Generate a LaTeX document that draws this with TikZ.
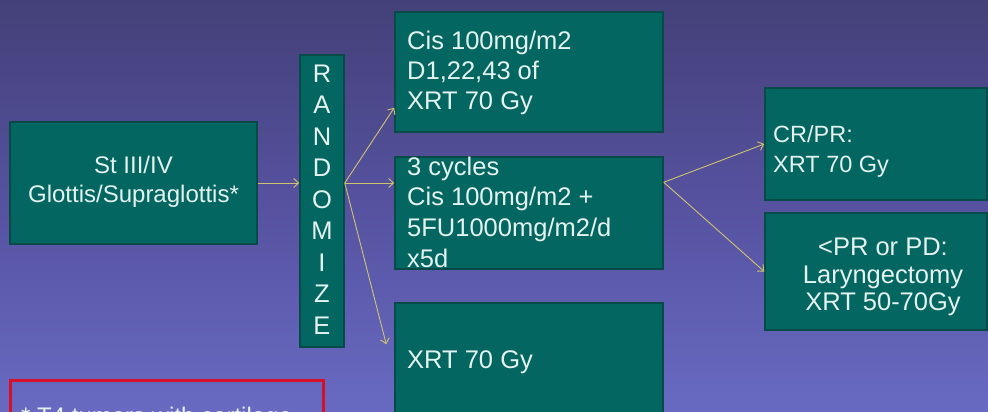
\documentclass[tikz,border=0pt]{standalone}
\usepackage{fontspec}
\setmainfont{Liberation Sans}
\usetikzlibrary{arrows.meta,calc}
\definecolor{bgtop}{RGB}{68,64,120}
\definecolor{bgmid}{RGB}{86,82,160}
\definecolor{bgbot}{RGB}{104,106,194}
\definecolor{boxfill}{RGB}{3,102,96}
\definecolor{boxline}{RGB}{8,74,72}
\definecolor{txt}{RGB}{228,242,240}
\definecolor{arr}{RGB}{206,196,112}
\definecolor{redb}{RGB}{214,16,40}
\begin{document}
\begin{tikzpicture}[x=1pt,y=-1pt,
  box/.style={draw=boxline, line width=1.5pt, fill=boxfill, inner sep=0pt},
  lbl/.style={text=txt, font=\fontsize{24}{29}\selectfont, inner sep=0pt, anchor=base west},
  big/.style={font=\fontsize{25.5}{30}\selectfont},
  small/.style={font=\fontsize{23.5}{28}\selectfont},
  clbl/.style={lbl, anchor=base},
  conn/.style={draw=arr, line width=0.9pt, -{Straight Barb[length=5pt,width=9pt]}}]
\useasboundingbox (0,0) rectangle (988,412);
\clip (0,0) rectangle (988,412);
\shade[top color=bgtop, bottom color=bgbot, middle color=bgmid] (0,0) rectangle (988,412);

% boxes
\node[box, minimum width=247pt, minimum height=122pt] (stage) at (133.5,183) {};
\node[box, minimum width=44pt, minimum height=292pt] (rand) at (322,201) {};
\node[box, minimum width=268pt, minimum height=120pt] (top) at (529,72) {};
\node[box, minimum width=268pt, minimum height=112pt] (mid) at (529,213) {};
\node[box, minimum width=268pt, minimum height=118pt] (bot) at (529,362) {};
\node[box, minimum width=222pt, minimum height=112pt] (trB) at (876,144) {};
\node[box, minimum width=222pt, minimum height=117pt] (brB) at (876,271.5) {};
\draw[redb, line width=3pt] (10,380) rectangle (323,450);

% texts
\node[clbl] (s1) at (133.5,173) {St III/IV};
\node[clbl] (s2) at (133.5,202) {Glottis/Supraglottis*};
\foreach \l [count=\i from 0] in {R,A,N,D,O,M,I,Z,E}
  \node[clbl, big] (r\i) at (322,82+31.5*\i) {\l};
\node[lbl, big] (a1) at (407,50) {Cis 100mg/m2};
\node[lbl, big] (a2) at (407,80) {D1,22,43 of};
\node[lbl, big] (a3) at (407,110) {XRT 70 Gy};
\node[lbl, big] (b1) at (407,175) {3 cycles};
\node[lbl, big] (b2) at (407,205) {Cis 100mg/m2 +};
\node[lbl, big] (b3) at (407,236) {5FU1000mg/m2/d};
\node[lbl, big] (b4) at (407,267) {x5d};
\node[lbl, big] (c1) at (407,368) {XRT 70 Gy};
\node[lbl, small] (d1) at (773,142) {CR/PR:};
\node[lbl, small] (d2) at (773,172) {XRT 70 Gy};
\node[clbl, big] (e1) at (883,255) {<PR or PD:};
\node[clbl, big] (e2) at (883,283) {Laryngectomy};
\node[clbl, big] (e3) at (883,310) {XRT 50-70Gy};
\node[lbl] (f1) at (21,424) {* T4 tumors with cartilage};

% connectors
\coordinate (rout) at (rand.east |- stage.east);
\coordinate (mout) at ($(mid.north east)+(0,26)$);
\draw[conn] (stage.east) -- (rand.west |- stage.east);
\draw[conn] (rout) -- ($(top.south west)+(0,-25)$);
\draw[conn] (rout) -- (mid.west |- rout);
\draw[conn] (rout) -- ($(bot.north west)+(-8,42)$);
\draw[conn] (mout) -- (trB.west);
\draw[conn] (mout) -- (brB.west);
\end{tikzpicture}
\end{document}
